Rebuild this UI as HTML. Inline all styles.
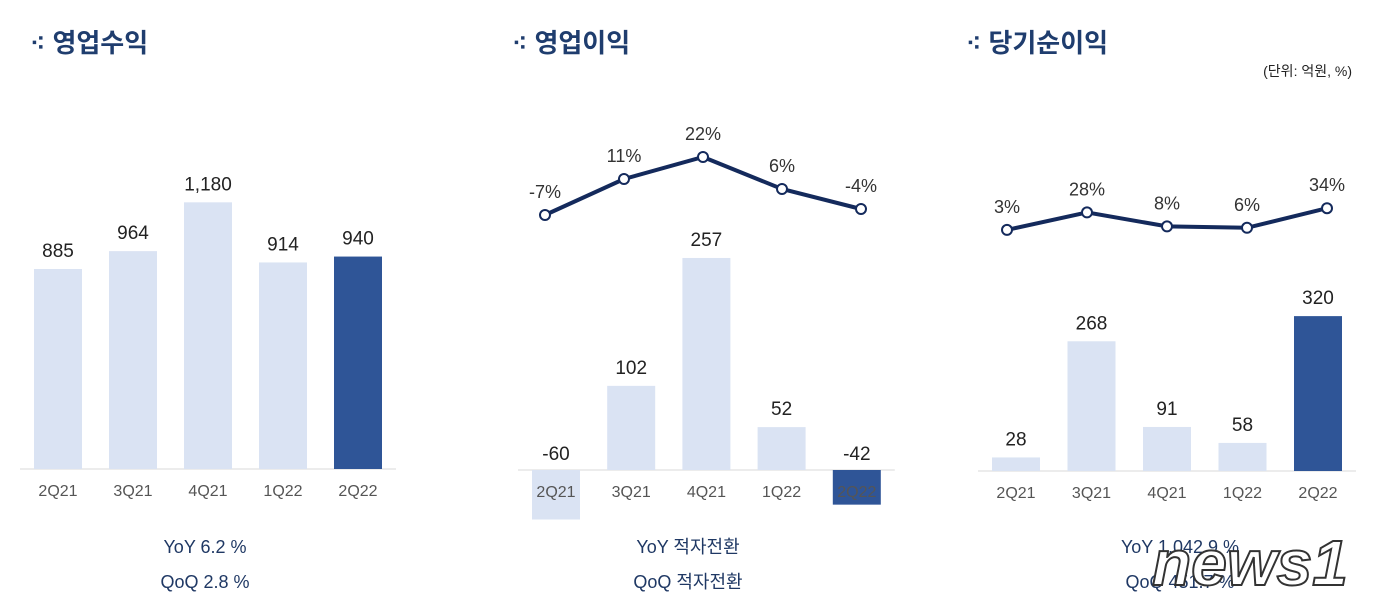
<!DOCTYPE html>
<html><head><meta charset="utf-8">
<style>
body{margin:0;width:1400px;height:615px;background:#fff;overflow:hidden;font-family:"Liberation Sans","Noto Sans CJK KR",sans-serif;}
svg{display:block}
</style></head><body>
<svg id="s" width="1400" height="615">
<text x="30" y="52" font-size="26" font-weight="bold" fill="#1f3d6e" font-family="Liberation Sans, Noto Sans CJK KR, sans-serif">⁖ 영업수익</text>
<text x="512" y="52" font-size="26" font-weight="bold" fill="#1f3d6e" font-family="Liberation Sans, Noto Sans CJK KR, sans-serif">⁖ 영업이익</text>
<text x="966" y="52" font-size="26" font-weight="bold" fill="#1f3d6e" font-family="Liberation Sans, Noto Sans CJK KR, sans-serif">⁖ 당기순이익</text>
<text x="1352" y="76" font-size="14" text-anchor="end" fill="#222" font-family="Liberation Sans, Noto Sans CJK KR, sans-serif">(단위: 억원, %)</text>
<g id="g"></g>
<g font-size="18" fill="#1f3864" text-anchor="middle" font-family="Liberation Sans, Noto Sans CJK KR, sans-serif">
<text x="205" y="553">YoY  6.2 %</text>
<text x="205" y="588">QoQ  2.8 %</text>
<text x="688" y="553">YoY   적자전환</text>
<text x="688" y="588">QoQ   적자전환</text>
<text x="1180" y="553">YoY  1,042.9 %</text>
<text x="1180" y="588">QoQ  451.7 %</text>
</g>
<text x="1250" y="585" font-size="64" font-style="italic" font-weight="bold" fill="#fff" stroke="#333" stroke-width="2" text-anchor="middle">news1</text>
</svg>
<script>
const categories=["2Q21","3Q21","4Q21","1Q22","2Q22"];
const revenue=[885,964,1180,914,940];
const opProfit=[-60,102,257,52,-42];
const opMargin=[-7,11,22,6,-4];
const netIncome=[28,268,91,58,320];
const netMargin=[3,28,8,6,34];
const NS="http://www.w3.org/2000/svg";
const g=document.getElementById('g');
function el(t,a,txt){const e=document.createElementNS(NS,t);for(const k in a)e.setAttribute(k,a[k]);if(txt!==undefined)e.textContent=txt;g.appendChild(e);return e;}
function chart(cfg){
  const {x0,step,base,scale,vals,name}=cfg;
  const ax=el('line',{x1:x0-38,x2:x0+4*step+38,y1:base,y2:base,stroke:'#d9d9d9','stroke-width':1});
  
  
  vals.forEach((v,i)=>{
    const cx=x0+i*step, h=v*scale;
    const r=el('rect',{x:cx-24,y:v>=0?base-h:base,width:48,height:Math.abs(h),fill:i==4?'#2f5597':'#dae3f3'});
    
    
    const ly=v>=0?base-h-12:base-10;
    const t=el('text',{x:cx,y:ly,'font-size':19,'text-anchor':'middle',fill:'#222'},v.toLocaleString('en-US'));
    
    
    const c=el('text',{x:cx,y:base+27,'font-size':16,'text-anchor':'middle',fill:'#555'},categories[i]);
    
    
  });
  if(cfg.line){
    const {lx0,lstep,ly0,lscale,lv}=cfg.line;
    const pts=lv.map((v,i)=>[lx0+i*lstep,ly0-v*lscale]);
    const p=el('polyline',{points:pts.map(p=>p.join(',')).join(' '),fill:'none',stroke:'#142a5c','stroke-width':4});
    
    
    pts.forEach((q,i)=>{
      const c=el('circle',{cx:q[0],cy:q[1],r:5,fill:'#fff',stroke:'#142a5c','stroke-width':2});
      
      
      const t=el('text',{x:q[0],y:q[1]-17,'font-size':18,'text-anchor':'middle',fill:'#333'},lv[i]+'%');
      
      
    });
  }
}
chart({x0:58,step:75,base:469,scale:0.226,vals:revenue,name:'revenue'});
chart({x0:556,step:75.2,base:470,scale:0.825,vals:opProfit,name:'op',line:{lx0:545,lstep:79,ly0:201,lscale:2,lv:opMargin}});
chart({x0:1016,step:75.5,base:471,scale:0.484,vals:netIncome,name:'net',line:{lx0:1007,lstep:80,ly0:232,lscale:0.7,lv:netMargin}});
</script>
</body></html>
